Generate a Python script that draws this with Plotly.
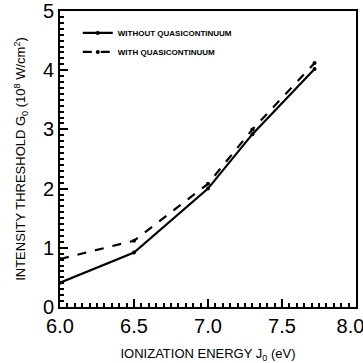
import plotly.graph_objects as go

energy = [6.0, 6.5, 7.0, 7.3, 7.72]
without_qc = [0.41, 0.92, 2.0, 2.92, 4.02]
with_qc = [0.81, 1.12, 2.08, 3.0, 4.12]
names = ["<b>WITHOUT QUASICONTINUUM</b>", "<b>WITH QUASICONTINUUM</b>"]
x_ticks = [6.0, 6.5, 7.0, 7.5, 8.0]
x_ticktext = ["6.0", "6.5", "7.0", "7.5", "8.0&nbsp;&nbsp;"]

fig = go.Figure(layout=dict(template="none"))
fig.add_trace(go.Scatter(x=energy, y=without_qc, name=names[0], mode="lines+markers",
                         line=dict(color="black", width=2.2), marker=dict(size=4, color="black")))
fig.add_trace(go.Scatter(x=energy, y=with_qc, name=names[1], mode="lines+markers",
                         line=dict(color="black", width=2.2, dash="dash"), marker=dict(size=4, color="black")))

axis_common = dict(showline=True, linecolor="black", linewidth=2, mirror=True, ticks="inside",
                   tickcolor="#000000", tickwidth=2, ticklen=8, showgrid=False, zeroline=False,
                   automargin=False, ticklabeloverflow="allow",
                   tickfont=dict(family="Liberation Sans, Arial", size=20, color="black"))
fig.update_xaxes(range=[6.0, 8.0], tickmode="array", tickvals=x_ticks, ticktext=x_ticktext,
                 minor=dict(tickmode="linear", tick0=6.0, dtick=0.05, ticks="inside", ticklen=4,
                            tickcolor="#000000", tickwidth=1.5, showgrid=False),
                 title=dict(text="IONIZATION ENERGY J<sub>0</sub> (eV)", font=dict(family="Liberation Sans, Arial", size=13, color="black"), standoff=14),
                 **axis_common)
fig.update_yaxes(range=[0, 5], tickmode="linear", tick0=0, dtick=1,
                 minor=dict(tickmode="linear", tick0=0, dtick=0.1, ticks="inside", ticklen=4,
                            tickcolor="#000000", tickwidth=1.5, showgrid=False),
                 title=dict(text="INTENSITY THRESHOLD G<sub>0</sub> (10<sup>8</sup> W/cm<sup>2</sup>)", font=dict(family="Liberation Sans, Arial", size=13, color="black"), standoff=14),
                 **axis_common)
fig.update_layout(width=363, height=363, margin=dict(l=60, r=7, t=11, b=56),
                  plot_bgcolor="white", paper_bgcolor="white", showlegend=True,
                  legend=dict(x=0.06, y=0.975, xanchor="left", yanchor="top", bgcolor="rgba(0,0,0,0)",
                              font=dict(family="Liberation Sans Narrow, Liberation Sans, Arial", size=8, color="black"),
                              itemwidth=30, tracegroupgap=0, itemsizing="trace"))
fig.write_html("out.html", config={"displayModeBar": False},
               post_script="document.body.style.margin='0';")
